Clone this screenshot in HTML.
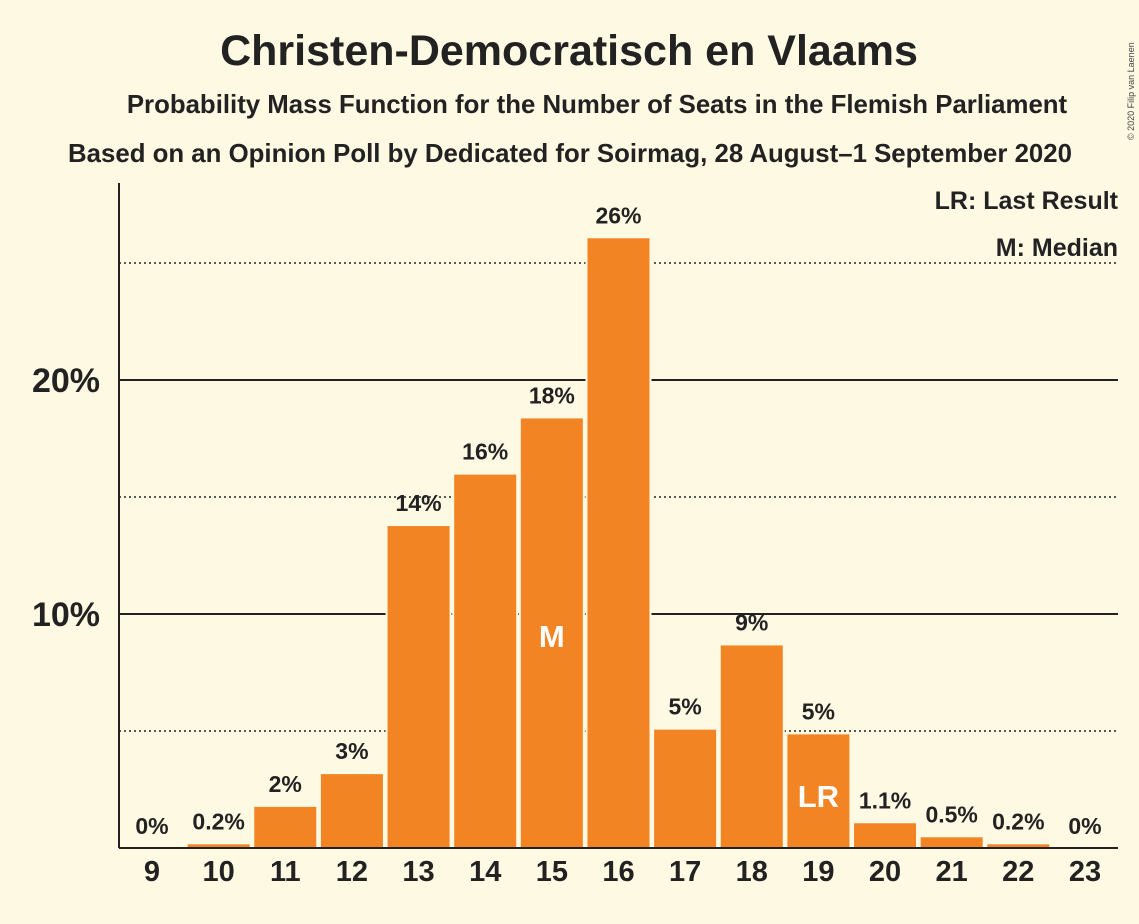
<!DOCTYPE html>
<html><head><meta charset="utf-8"><style>
body{margin:0;background:#fdf9e3;}
svg{display:block;font-family:"Liberation Sans",sans-serif;font-weight:bold;}
</style></head><body>
<svg width="1139" height="924" viewBox="0 0 1139 924">
<rect width="1139" height="924" fill="#fdf9e3"/>
<text x="569" y="65" font-size="43" text-anchor="middle" fill="#222">Christen-Democratisch en Vlaams</text>
<text x="597" y="113" font-size="25.8" text-anchor="middle" fill="#222">Probability Mass Function for the Number of Seats in the Flemish Parliament</text>
<text x="570" y="162" font-size="25.8" text-anchor="middle" fill="#222">Based on an Opinion Poll by Dedicated for Soirmag, 28 August–1 September 2020</text>
<text x="1134" y="140" font-size="9" font-weight="normal" fill="#444" transform="rotate(-90 1134 140)">© 2020 Filip van Laenen</text>
<g id="grid"></g>
<g id="bars"></g>
<line x1="119" y1="183" x2="119" y2="848" stroke="#222" stroke-width="2"/>
<line x1="119" y1="848" x2="1118" y2="848" stroke="#222" stroke-width="2"/>
<text x="1118" y="209" font-size="25" text-anchor="end" fill="#222">LR: Last Result</text>
<text x="1118" y="256" font-size="25" text-anchor="end" fill="#222">M: Median</text>
</svg>
<script>
const seats=[9,10,11,12,13,14,15,16,17,18,19,20,21,22,23];
const probs=[0,0.2,1.8,3.2,13.8,16,18.4,26.1,5.1,8.7,4.9,1.1,0.5,0.2,0];
const labels=["0%","0.2%","2%","3%","14%","16%","18%","26%","5%","9%","5%","1.1%","0.5%","0.2%","0%"];
const medianSeat=15, lastResultSeat=19;
const yTicks=[10,20];
const yTickLabels=["10%","20%"];
const dottedTicks=[5,15,25];
const NS="http://www.w3.org/2000/svg";
const y=v=>848-v*23.4;
const x=s=>152+(s-9)*66.64;
const bw=64;
function mk(t,a,p){const e=document.createElementNS(NS,t);for(const k in a)e.setAttribute(k,a[k]);p.appendChild(e);return e;}
const grid=document.getElementById('grid'),bars=document.getElementById('bars');
dottedTicks.forEach(v=>{const l=mk('line',{x1:119,x2:1118,y1:y(v),y2:y(v),stroke:'#222','stroke-width':1.5,'stroke-dasharray':'2,3'},grid);

});
yTicks.forEach((v,i)=>{const l=mk('line',{x1:119,x2:1118,y1:y(v),y2:y(v),stroke:'#222','stroke-width':2},grid);


const t=mk('text',{x:100,y:y(v)+12,'font-size':34,'text-anchor':'end',fill:'#222'},grid);t.textContent=yTickLabels[i];

});
seats.forEach((s,i)=>{const p=probs[i];
if(p>0){const r=mk('rect',{x:x(s)-bw/2,y:y(p),width:bw,height:848-y(p),fill:'#f28424',stroke:'#fdf9e3','stroke-width':2},bars);

}
const t=mk('text',{x:x(s),y:y(p)-14,'font-size':23,'text-anchor':'middle',fill:'#222'},bars);t.textContent=labels[i];


const xt=mk('text',{x:x(s),y:881,'font-size':29,'text-anchor':'middle',fill:'#222'},bars);xt.textContent=s;


if(s===medianSeat){const m=mk('text',{x:x(s),y:647,'font-size':31,'text-anchor':'middle',fill:'#fff'},bars);m.textContent='M';

}
if(s===lastResultSeat){const m=mk('text',{x:x(s),y:807,'font-size':31,'text-anchor':'middle',fill:'#fff'},bars);m.textContent='LR';

}
});
</script>
</body></html>
